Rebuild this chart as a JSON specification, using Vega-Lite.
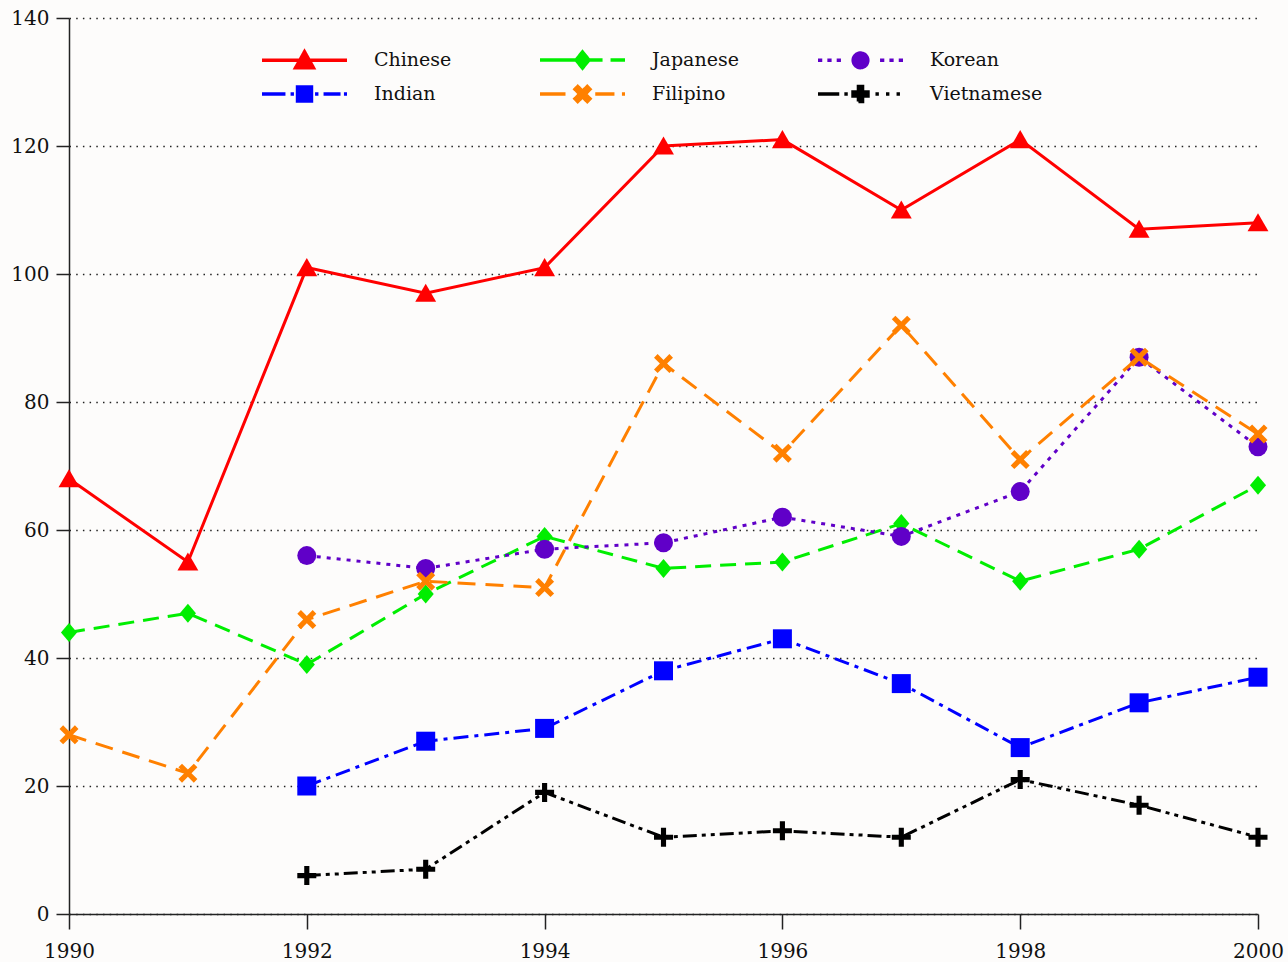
{
  "$schema": "https://vega.github.io/schema/vega-lite/v6.json",
  "width": 1189,
  "height": 896,
  "autosize": {"type": "none"},
  "padding": {"left": 69, "top": 18, "right": 30, "bottom": 48},
  "background": "#fdfcfb",
  "config": {"view": {"stroke": null}},
  "data": {
    "values": [
      {"group": "Chinese", "year": 1990, "value": 68},
      {"group": "Chinese", "year": 1991, "value": 55},
      {"group": "Chinese", "year": 1992, "value": 101},
      {"group": "Chinese", "year": 1993, "value": 97},
      {"group": "Chinese", "year": 1994, "value": 101},
      {"group": "Chinese", "year": 1995, "value": 120},
      {"group": "Chinese", "year": 1996, "value": 121},
      {"group": "Chinese", "year": 1997, "value": 110},
      {"group": "Chinese", "year": 1998, "value": 121},
      {"group": "Chinese", "year": 1999, "value": 107},
      {"group": "Chinese", "year": 2000, "value": 108},
      {"group": "Indian", "year": 1992, "value": 20},
      {"group": "Indian", "year": 1993, "value": 27},
      {"group": "Indian", "year": 1994, "value": 29},
      {"group": "Indian", "year": 1995, "value": 38},
      {"group": "Indian", "year": 1996, "value": 43},
      {"group": "Indian", "year": 1997, "value": 36},
      {"group": "Indian", "year": 1998, "value": 26},
      {"group": "Indian", "year": 1999, "value": 33},
      {"group": "Indian", "year": 2000, "value": 37},
      {"group": "Japanese", "year": 1990, "value": 44},
      {"group": "Japanese", "year": 1991, "value": 47},
      {"group": "Japanese", "year": 1992, "value": 39},
      {"group": "Japanese", "year": 1993, "value": 50},
      {"group": "Japanese", "year": 1994, "value": 59},
      {"group": "Japanese", "year": 1995, "value": 54},
      {"group": "Japanese", "year": 1996, "value": 55},
      {"group": "Japanese", "year": 1997, "value": 61},
      {"group": "Japanese", "year": 1998, "value": 52},
      {"group": "Japanese", "year": 1999, "value": 57},
      {"group": "Japanese", "year": 2000, "value": 67},
      {"group": "Korean", "year": 1992, "value": 56},
      {"group": "Korean", "year": 1993, "value": 54},
      {"group": "Korean", "year": 1994, "value": 57},
      {"group": "Korean", "year": 1995, "value": 58},
      {"group": "Korean", "year": 1996, "value": 62},
      {"group": "Korean", "year": 1997, "value": 59},
      {"group": "Korean", "year": 1998, "value": 66},
      {"group": "Korean", "year": 1999, "value": 87},
      {"group": "Korean", "year": 2000, "value": 73},
      {"group": "Filipino", "year": 1990, "value": 28},
      {"group": "Filipino", "year": 1991, "value": 22},
      {"group": "Filipino", "year": 1992, "value": 46},
      {"group": "Filipino", "year": 1993, "value": 52},
      {"group": "Filipino", "year": 1994, "value": 51},
      {"group": "Filipino", "year": 1995, "value": 86},
      {"group": "Filipino", "year": 1996, "value": 72},
      {"group": "Filipino", "year": 1997, "value": 92},
      {"group": "Filipino", "year": 1998, "value": 71},
      {"group": "Filipino", "year": 1999, "value": 87},
      {"group": "Filipino", "year": 2000, "value": 75},
      {"group": "Vietnamese", "year": 1992, "value": 6},
      {"group": "Vietnamese", "year": 1993, "value": 7},
      {"group": "Vietnamese", "year": 1994, "value": 19},
      {"group": "Vietnamese", "year": 1995, "value": 12},
      {"group": "Vietnamese", "year": 1996, "value": 13},
      {"group": "Vietnamese", "year": 1997, "value": 12},
      {"group": "Vietnamese", "year": 1998, "value": 21},
      {"group": "Vietnamese", "year": 1999, "value": 17},
      {"group": "Vietnamese", "year": 2000, "value": 12}
    ]
  },
  "encoding": {
    "x": {
      "field": "year", "type": "quantitative",
      "scale": {"domain": [1990, 2000], "nice": false, "zero": false},
      "axis": {
        "title": null, "values": [1990, 1992, 1994, 1996, 1998, 2000], "format": "d",
        "grid": false, "tickSize": 15, "labelPadding": 12,
        "domainColor": "#222", "domainWidth": 1.5, "tickColor": "#222", "tickWidth": 1.5,
        "labelFont": "DejaVu Serif", "labelFontSize": 20, "labelColor": "#111",
        "labelFlush": false, "labelOverlap": false
      }
    },
    "y": {
      "field": "value", "type": "quantitative",
      "scale": {"domain": [0, 140], "nice": false},
      "axis": {
        "title": null, "values": [0, 20, 40, 60, 80, 100, 120, 140],
        "grid": true, "gridDash": [1.5, 5.2], "gridColor": "#222", "gridWidth": 1.4,
        "tickSize": 13, "labelPadding": 7,
        "domainColor": "#222", "domainWidth": 1.5, "tickColor": "#222", "tickWidth": 1.5,
        "labelFont": "DejaVu Serif", "labelFontSize": 20, "labelColor": "#111",
        "labelFlush": false, "labelOverlap": false
      }
    },
    "color": {
      "field": "group", "type": "nominal",
      "scale": {
        "domain": ["Chinese", "Indian", "Japanese", "Filipino", "Korean", "Vietnamese"],
        "range": ["#ff0000", "#0000ff", "#00ee00", "#ff8000", "#6000c8", "#000000"]
      },
      "legend": {
        "title": null, "orient": "none", "legendX": 216.5, "legendY": 23,
        "columns": 3, "gridAlign": "all", "columnPadding": 46, "rowPadding": -1,
        "padding": 0, "symbolSize": 1156, "labelOffset": 50.5, "symbolStrokeWidth": 3.5,
        "symbolOpacity": 1, "symbolDash": [1, 0],
        "labelFont": "DejaVu Serif", "labelFontSize": 19, "labelColor": "#111"
      }
    }
  },
  "layer": [
    {
      "transform": [{"filter": "datum.group === 'Chinese'"}],
      "mark": {"type": "line", "strokeWidth": 3,
        "point": {"filled": true, "opacity": 1, "size": 361, "shape": "M0,-1L1.1,0.9L-1.1,0.9Z"}}
    },
    {
      "transform": [{"filter": "datum.group === 'Indian'"}],
      "mark": {"type": "line", "strokeWidth": 3, "strokeDash": [15, 6, 4, 6],
        "point": {"filled": true, "opacity": 1, "size": 361, "shape": "M-1,-1H1V1H-1Z"}}
    },
    {
      "transform": [{"filter": "datum.group === 'Japanese'"}],
      "mark": {"type": "line", "strokeWidth": 3, "strokeDash": [16, 9],
        "point": {"filled": true, "opacity": 1, "size": 361, "shape": "M0,-1L0.85,0L0,1L-0.85,0Z"}}
    },
    {
      "transform": [{"filter": "datum.group === 'Korean'"}],
      "mark": {"type": "line", "strokeWidth": 3, "strokeDash": [4, 6],
        "point": {"filled": true, "opacity": 1, "size": 361, "shape": "circle"}}
    },
    {
      "transform": [{"filter": "datum.group === 'Filipino'"}],
      "mark": {"type": "line", "strokeWidth": 3, "strokeDash": [18, 10],
        "point": {"filled": true, "opacity": 1, "size": 361, "shape": "M-1,-0.62L-0.62,-1L0,-0.38L0.62,-1L1,-0.62L0.38,0L1,0.62L0.62,1L0,0.38L-0.62,1L-1,0.62L-0.38,0Z"}}
    },
    {
      "transform": [{"filter": "datum.group === 'Vietnamese'"}],
      "mark": {"type": "line", "strokeWidth": 3, "strokeDash": [14, 5, 4, 5, 4, 5],
        "point": {"filled": true, "opacity": 1, "size": 361, "shape": "M-0.27,-1H0.27V-0.27H1V0.27H0.27V1H-0.27V0.27H-1V-0.27H-0.27Z"}}
    },
    {
      "transform": [{"filter": "datum.year < 0"}],
      "mark": {"type": "point", "filled": true, "opacity": 1},
      "encoding": {
        "shape": {
          "field": "group", "type": "nominal",
          "scale": {
            "domain": ["Chinese", "Indian", "Japanese", "Filipino", "Korean", "Vietnamese"],
            "range": [
              "M-2.5,0H2.5M0,-0.5L0.52,0.43L-0.52,0.43Z",
              "M-2.5,0H-1.12M-0.82,0H-0.62M0.62,0H0.82M1.12,0H2.12M2.32,0H2.5M-0.41,-0.41H0.41V0.41H-0.41Z",
              "M-2.5,0H1.18M1.65,0H2.5M0,-0.47L0.38,0L0,0.47L-0.38,0Z",
              "M-2.5,0H-1M0.75,0H1.88M2.32,0H2.5M-0.44,-0.28L-0.28,-0.44L0,-0.16L0.28,-0.44L0.44,-0.28L0.16,0L0.44,0.28L0.28,0.44L0,0.16L-0.28,0.44L-0.44,0.28L-0.16,0Z",
              "M-2.5,0H-2.25M-1.95,0H-1.7M-1.4,0H-1.15M1.15,0H1.4M1.7,0H1.95M2.25,0H2.5M-0.43,0A0.43,0.43,0,1,0,0.43,0A0.43,0.43,0,1,0,-0.43,0Z",
              "M-2.5,0H-1.25M-0.95,0H-0.75M0.88,0H1.08M1.5,0H1.7M2.12,0H2.32M-0.12,-0.44H0.12V-0.12H0.44V0.12H0.12V0.44H-0.12V0.12H-0.44V-0.12H-0.12Z"
            ]
          }
        }
      }
    }
  ]
}
